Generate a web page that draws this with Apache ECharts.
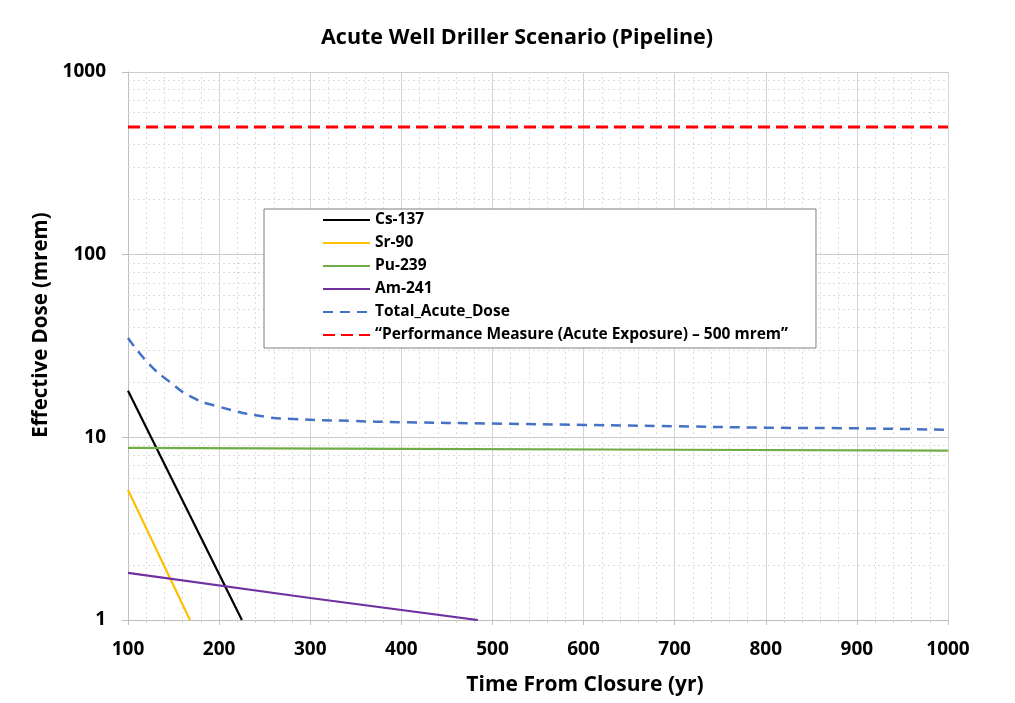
<!DOCTYPE html>
<html>
<head>
<meta charset="utf-8">
<script src="https://cdn.jsdelivr.net/npm/echarts@6/dist/echarts.min.js"></script>
<style>
html,body{margin:0;padding:0;background:#fff;}
#chart{width:1015px;height:703px;}
</style>
</head>
<body>
<div id="chart"></div>
<script>
const titleText = 'Acute Well Driller Scenario (Pipeline)';
const xTitle = 'Time From Closure (yr)';
const yTitle = 'Effective Dose (mrem)';

const cs137 = [[100, 18], [225, 1]];
const sr90 = [[100, 5.15], [168, 1]];
const pu239 = [[100, 8.75], [400, 8.65], [700, 8.55], [1000, 8.45]];
const am241 = [[100, 1.81], [300, 1.32], [484, 1]];
const totalDose = [[100, 35], [124, 24.9], [146, 20.1], [168, 16.8], [198, 14.8], [253, 12.9], [281, 12.6], [344, 12.3], [400, 12.1], [500, 11.9], [600, 11.7], [700, 11.5], [800, 11.3], [900, 11.2], [1000, 11.0]];
const perfMeasure = [[100, 500], [1000, 500]];

const seriesNames = ['Cs-137', 'Sr-90', 'Pu-239', 'Am-241', 'Total_Acute_Dose', '\u201CPerformance Measure (Acute Exposure) \u2013 500 mrem\u201D'];
const yMinorValues = [2,3,4,5,6,7,8,9,20,30,40,50,60,70,80,90,200,300,400,500,600,700,800,900];

const FONT = '"Open Sans"';
const chart = echarts.init(document.getElementById('chart'), null, {renderer: 'canvas'});

function lineSeries(name, data, color, width, type, smooth) {
  return {
    name: name, type: 'line', data: data, symbol: 'none', showSymbol: false, smooth: !!smooth,
    clip: true, z: 5,
    lineStyle: {color: color, width: width, type: type},
    itemStyle: {color: color}
  };
}

const option = {
  backgroundColor: '#fff',
  animation: false,
  title: {
    text: titleText, left: 321, top: 22,
    padding: [5, 0, 5, 0],
    textStyle: {fontFamily: FONT, fontSize: 21.5, fontWeight: 'bold', color: '#000'}
  },
  grid: {left: 128, right: 67, top: 72, bottom: 83, containLabel: false},
  legend: {
    data: seriesNames,
    z: 50,
    orient: 'vertical', left: 264, top: 209,
    itemWidth: 47, itemHeight: 14, itemGap: 5,
    padding: [2, 28, 4, 58],
    backgroundColor: '#fff', borderColor: '#7f7f7f', borderWidth: 1,
    itemStyle: {opacity: 0},
    textStyle: {fontFamily: FONT, fontSize: 15.5, lineHeight: 18, fontWeight: 'bold', color: '#000'}
  },
  xAxis: {
    type: 'value', min: 100, max: 1000, interval: 100,
    name: xTitle, nameLocation: 'middle', nameGap: 55,
    nameTextStyle: {fontFamily: FONT, fontSize: 21, fontWeight: 'bold', color: '#000', padding: [0, 0, 0, 94]},
    axisLine: {show: true, lineStyle: {color: '#bfbfbf'}},
    axisTick: {show: true, length: 5, lineStyle: {color: '#bfbfbf'}},
    minorTick: {show: true, splitNumber: 5, length: 3, lineStyle: {color: '#d0d0d0'}},
    axisLabel: {fontFamily: FONT, fontSize: 19, fontWeight: 'bold', color: '#000', margin: 20, formatter: v => String(v)},
    splitLine: {show: true, lineStyle: {color: '#d4d4d4', width: 1}},
    minorSplitLine: {show: true, lineStyle: {color: '#dcdcdc', width: 1, type: [2, 3]}}
  },
  yAxis: {
    type: 'log', logBase: 10, min: 1, max: 1000,
    name: yTitle, nameLocation: 'middle', nameGap: 74, nameRotate: 90,
    nameTextStyle: {fontFamily: FONT, fontSize: 20.5, fontWeight: 'bold', color: '#000', padding: [0, 0, 0, 42]},
    axisLine: {show: true, lineStyle: {color: '#bfbfbf'}},
    axisTick: {show: true, length: 6, lineStyle: {color: '#bfbfbf'}},
    axisLabel: {fontFamily: FONT, fontSize: 19, fontWeight: 'bold', color: '#000', margin: 22, formatter: v => String(v)},
    splitLine: {show: true, lineStyle: {color: '#cccccc', width: 1}}
  },
  series: [
    {
      name: 'minorGrid', type: 'line', data: [], silent: true, z: 1,
      markLine: {
        silent: true, symbol: 'none', animation: false, z: 1,
        label: {show: false},
        lineStyle: {color: '#dcdcdc', width: 1, type: [2, 3]},
        data: yMinorValues.map(v => ({yAxis: v}))
      }
    },
    lineSeries(seriesNames[0], cs137, '#000000', 2.2, 'solid'),
    lineSeries(seriesNames[1], sr90, '#FFC000', 2.2, 'solid'),
    lineSeries(seriesNames[2], pu239, '#70AD47', 2.2, 'solid'),
    lineSeries(seriesNames[3], am241, '#7030A0', 2.2, 'solid'),
    lineSeries(seriesNames[4], totalDose, '#4472C4', 2.5, [10, 7], true),
    lineSeries(seriesNames[5], perfMeasure, '#FF0000', 3, [12, 6])
  ]
};
chart.setOption(option);
</script>
</body>
</html>
